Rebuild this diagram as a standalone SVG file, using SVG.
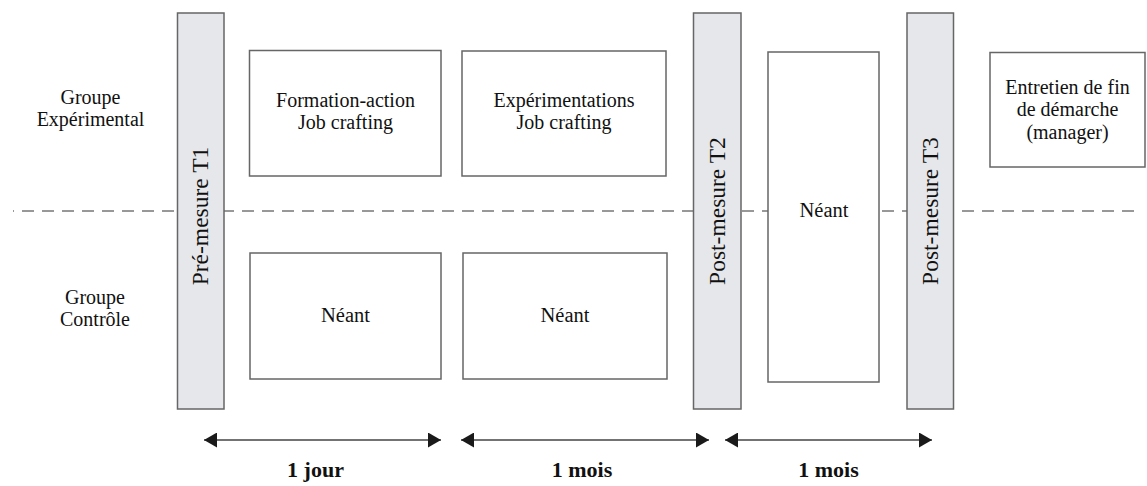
<svg xmlns="http://www.w3.org/2000/svg" width="1147" height="486" viewBox="0 0 1147 486">
<defs>
<style>
.bar{fill:#e5e7ea;stroke:#666;stroke-width:1.5}
.box{fill:#fff;stroke:#666;stroke-width:1.5}
text{font-family:'Liberation Serif','Times New Roman',serif;fill:#111;text-anchor:middle}
.t{font-size:20.5px}
.m{font-size:20px}
.rt{font-size:23.5px}
.b{font-size:22px;font-weight:bold}
.dash{stroke:#777;stroke-width:1.5;stroke-dasharray:12 8;stroke-dashoffset:11;fill:none}
.arr{stroke:#444;stroke-width:1.6;fill:none;marker-start:url(#ah);marker-end:url(#ah)}
</style>
<marker id="ah" viewBox="0 0 13 15" refX="13" refY="7.5" markerWidth="13" markerHeight="15" markerUnits="userSpaceOnUse" orient="auto-start-reverse">
<path d="M0,0 L13,7.5 L0,15 Z" fill="#1a1a1a"/>
</marker>
</defs>
<g id="separator">
<line class="dash" x1="13" y1="211" x2="1139" y2="211"/>
</g>
<g id="label-exp">
<text class="m" x="90.5" y="103.5">Groupe</text>
<text class="m" x="90.5" y="126">Expérimental</text>
</g>
<g id="label-ctrl">
<text class="m" x="95" y="303.5">Groupe</text>
<text class="m" x="95" y="326">Contrôle</text>
</g>
<g id="t1">
<rect class="bar" x="177.5" y="13" width="46.5" height="396"/>
<text class="rt" transform="translate(208,216) rotate(-90)">Pré-mesure T1</text>
</g>
<g id="formation">
<rect class="box" x="249.5" y="50.5" width="191.5" height="125.5"/>
<text class="m" x="345.5" y="106.8">Formation-action</text>
<text class="m" x="345.5" y="129.3">Job crafting</text>
</g>
<g id="experimentations">
<rect class="box" x="462" y="51" width="204" height="125"/>
<text class="m" x="564" y="106.8">Expérimentations</text>
<text class="m" x="564" y="129.3">Job crafting</text>
</g>
<g id="neant1">
<rect class="box" x="250" y="253" width="191" height="126"/>
<text class="t" x="345.5" y="322">Néant</text>
</g>
<g id="neant2">
<rect class="box" x="463" y="253" width="204" height="126"/>
<text class="t" x="565" y="322">Néant</text>
</g>
<g id="t2">
<rect class="bar" x="693.5" y="13" width="47.5" height="396"/>
<text class="rt" transform="translate(725,211) rotate(-90)">Post-mesure T2</text>
</g>
<g id="neant3">
<rect class="box" x="768" y="52" width="111" height="330"/>
<text class="t" x="824" y="217">Néant</text>
</g>
<g id="t3">
<rect class="bar" x="907" y="13" width="46.5" height="396"/>
<text class="rt" transform="translate(938,211) rotate(-90)">Post-mesure T3</text>
</g>
<g id="entretien">
<rect class="box" x="990" y="52.5" width="155" height="114.5"/>
<text class="m" x="1067.5" y="93.5">Entretien de fin</text>
<text class="m" x="1067.5" y="116">de démarche</text>
<text class="m" x="1067.5" y="138.5">(manager)</text>
</g>
<g id="connectors">
<line class="arr" x1="204" y1="440" x2="441" y2="440"/>
<line class="arr" x1="461" y1="440" x2="709" y2="440"/>
<line class="arr" x1="725" y1="440" x2="932" y2="440"/>
</g>
<g id="durations">
<text class="b" x="315.5" y="477">1 jour</text>
<text class="b" x="582" y="477">1 mois</text>
<text class="b" x="828.5" y="477">1 mois</text>
</g>
</svg>
